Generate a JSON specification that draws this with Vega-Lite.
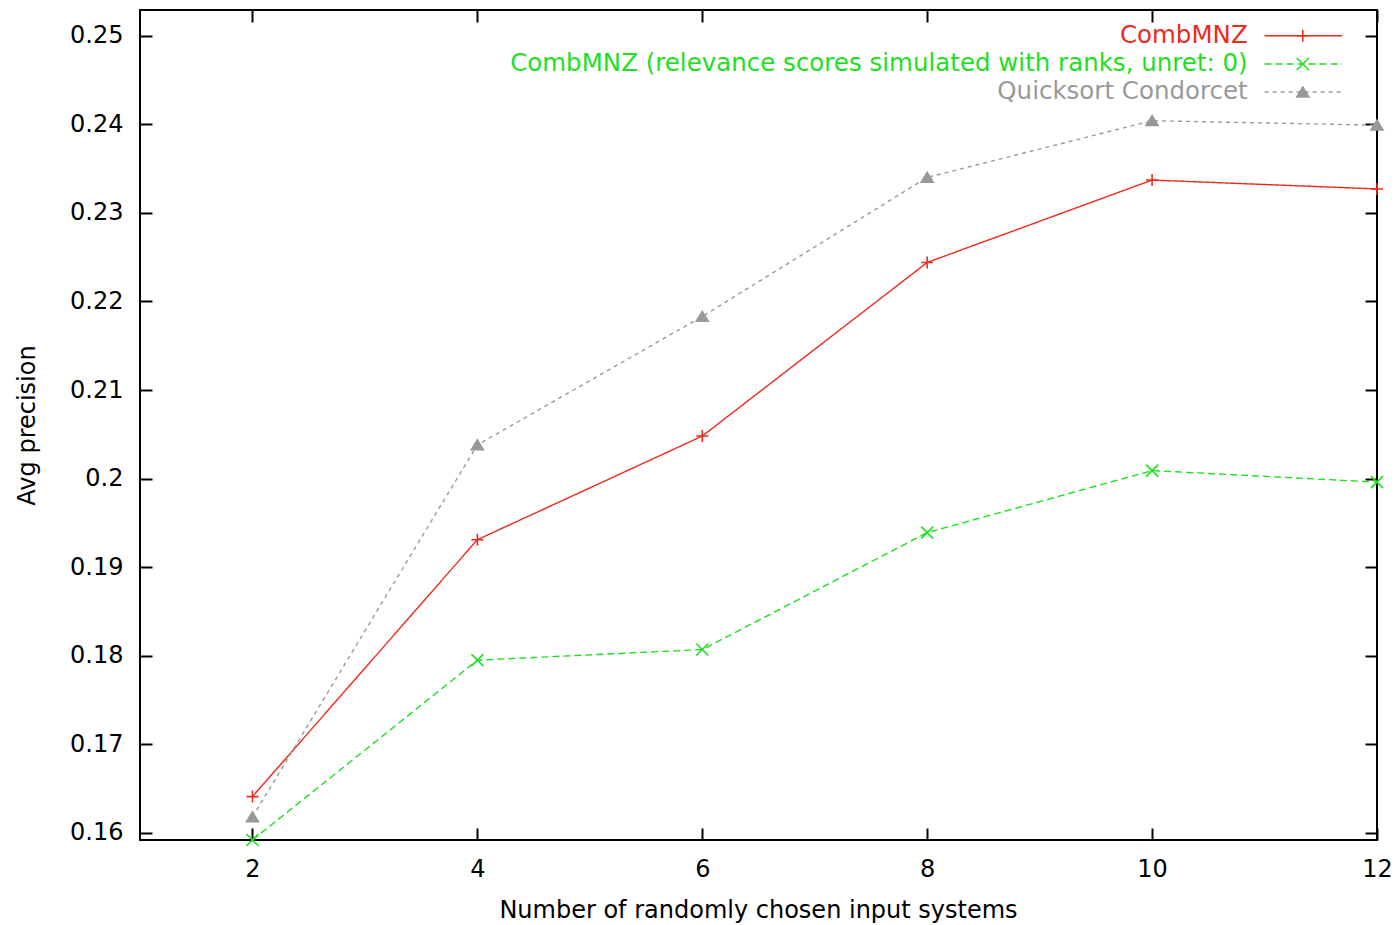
{
  "$schema": "https://vega.github.io/schema/vega-lite/v6.json",
  "width": 1237,
  "height": 830,
  "autosize": {"type": "none"},
  "padding": {"left": 140, "top": 10, "right": 20, "bottom": 85},
  "background": "white",
  "config": {
    "font": "DejaVu Sans",
    "view": {"stroke": "black", "strokeWidth": 2},
    "axis": {
      "domain": false,
      "grid": false,
      "ticks": true,
      "tickColor": "black",
      "tickWidth": 2,
      "tickSize": -12,
      "labelFont": "DejaVu Sans",
      "labelFontSize": 24,
      "labelColor": "black",
      "labelFlush": false,
      "labelOverlap": false,
      "labelBound": false,
      "titleFont": "DejaVu Sans",
      "titleFontSize": 24,
      "titleFontWeight": "normal",
      "titleColor": "black"
    }
  },
  "datasets": {
    "runs": [
      {"series": "CombMNZ", "systems": 2, "precision": 0.1641},
      {"series": "CombMNZ", "systems": 4, "precision": 0.1931},
      {"series": "CombMNZ", "systems": 6, "precision": 0.2048},
      {"series": "CombMNZ", "systems": 8, "precision": 0.2244},
      {"series": "CombMNZ", "systems": 10, "precision": 0.2337},
      {"series": "CombMNZ", "systems": 12, "precision": 0.2327},
      {"series": "CombMNZ (relevance scores simulated with ranks, unret: 0)", "systems": 2, "precision": 0.1592},
      {"series": "CombMNZ (relevance scores simulated with ranks, unret: 0)", "systems": 4, "precision": 0.1795},
      {"series": "CombMNZ (relevance scores simulated with ranks, unret: 0)", "systems": 6, "precision": 0.1807},
      {"series": "CombMNZ (relevance scores simulated with ranks, unret: 0)", "systems": 8, "precision": 0.1939},
      {"series": "CombMNZ (relevance scores simulated with ranks, unret: 0)", "systems": 10, "precision": 0.2009},
      {"series": "CombMNZ (relevance scores simulated with ranks, unret: 0)", "systems": 12, "precision": 0.1996},
      {"series": "Quicksort Condorcet", "systems": 2, "precision": 0.1618},
      {"series": "Quicksort Condorcet", "systems": 4, "precision": 0.2038},
      {"series": "Quicksort Condorcet", "systems": 6, "precision": 0.2183},
      {"series": "Quicksort Condorcet", "systems": 8, "precision": 0.2340},
      {"series": "Quicksort Condorcet", "systems": 10, "precision": 0.2404},
      {"series": "Quicksort Condorcet", "systems": 12, "precision": 0.2399}
    ],
    "key": [
      {"series": "CombMNZ", "labelAt": 10.85, "from": 11.0, "to": 11.69, "markAt": 11.34, "row": 0.25},
      {"series": "CombMNZ (relevance scores simulated with ranks, unret: 0)", "labelAt": 10.85, "from": 11.0, "to": 11.69, "markAt": 11.34, "row": 0.2468},
      {"series": "Quicksort Condorcet", "labelAt": 10.85, "from": 11.0, "to": 11.69, "markAt": 11.34, "row": 0.24364}
    ]
  },
  "resolve": {"axis": {"x": "independent", "y": "independent"}},
  "layer": [
    {
      "data": {"name": "runs"},
      "encoding": {
        "x": {
          "field": "systems", "type": "quantitative",
          "scale": {"domain": [1, 12], "nice": false, "zero": false},
          "axis": {"orient": "bottom", "values": [2, 4, 6, 8, 10, 12], "labelPadding": 29,
                   "title": "Number of randomly chosen input systems",
                   "titleX": 618, "titleY": 70, "titleAlign": "center", "titleBaseline": "middle"}
        },
        "y": {
          "field": "precision", "type": "quantitative",
          "scale": {"domain": [0.1592, 0.2529], "nice": false, "zero": false},
          "axis": {"orient": "left", "values": [0.16, 0.17, 0.18, 0.19, 0.2, 0.21, 0.22, 0.23, 0.24, 0.25],
                   "format": ".2~f", "labelPadding": 29,
                   "title": "Avg precision",
                   "titleX": -113, "titleY": 415, "titleAngle": -90, "titleAlign": "center", "titleBaseline": "middle"}
        },
        "color": {
          "field": "series", "type": "nominal", "legend": null,
          "scale": {
            "domain": ["CombMNZ", "CombMNZ (relevance scores simulated with ranks, unret: 0)", "Quicksort Condorcet"],
            "range": ["#ee2a1c", "#1ee01e", "#999999"]
          }
        }
      },
      "layer": [
        {
          "mark": {"type": "line", "strokeWidth": 1.4},
          "encoding": {
            "strokeDash": {
              "field": "series", "type": "nominal", "legend": null,
              "scale": {
                "domain": ["CombMNZ", "CombMNZ (relevance scores simulated with ranks, unret: 0)", "Quicksort Condorcet"],
                "range": [[1, 0], [7, 4], [4, 4]]
              }
            }
          }
        },
        {
          "mark": {"type": "point", "filled": false, "strokeWidth": 1.6, "opacity": 1},
          "encoding": {
            "shape": {
              "field": "series", "type": "nominal", "legend": null,
              "scale": {
                "domain": ["CombMNZ", "CombMNZ (relevance scores simulated with ranks, unret: 0)", "Quicksort Condorcet"],
                "range": ["M-1,0L1,0M0,-1L0,1", "M-1,-1L1,1M-1,1L1,-1", "M0,-0.85L1,0.8L-1,0.8Z"]
              }
            },
            "fill": {
              "field": "series", "type": "nominal", "legend": null,
              "scale": {
                "domain": ["CombMNZ", "CombMNZ (relevance scores simulated with ranks, unret: 0)", "Quicksort Condorcet"],
                "range": ["transparent", "transparent", "#999999"]
              }
            },
            "size": {"value": 144}
          }
        }
      ]
    },
    {
      "data": {"name": "key"},
      "encoding": {
        "y": {
          "field": "row", "type": "quantitative",
          "axis": {"orient": "right", "values": [0.16, 0.17, 0.18, 0.19, 0.2, 0.21, 0.22, 0.23, 0.24, 0.25],
                   "labels": false, "title": null}
        },
        "color": {"field": "series", "type": "nominal", "legend": null}
      },
      "layer": [
        {
          "mark": {"type": "text", "align": "right", "baseline": "middle", "fontSize": 24.5, "font": "DejaVu Sans"},
          "encoding": {
            "x": {"field": "labelAt", "type": "quantitative",
                  "axis": {"orient": "top", "values": [2, 4, 6, 8, 10, 12], "labels": false, "title": null}},
            "text": {"field": "series"}
          }
        },
        {
          "mark": {"type": "rule", "strokeWidth": 1.4},
          "encoding": {
            "x": {"field": "from", "type": "quantitative"},
            "x2": {"field": "to"},
            "strokeDash": {"field": "series", "type": "nominal", "legend": null}
          }
        },
        {
          "mark": {"type": "point", "filled": false, "strokeWidth": 1.6, "opacity": 1},
          "encoding": {
            "x": {"field": "markAt", "type": "quantitative"},
            "shape": {"field": "series", "type": "nominal", "legend": null},
            "fill": {"field": "series", "type": "nominal", "legend": null},
            "size": {"value": 144}
          }
        }
      ]
    }
  ]
}
